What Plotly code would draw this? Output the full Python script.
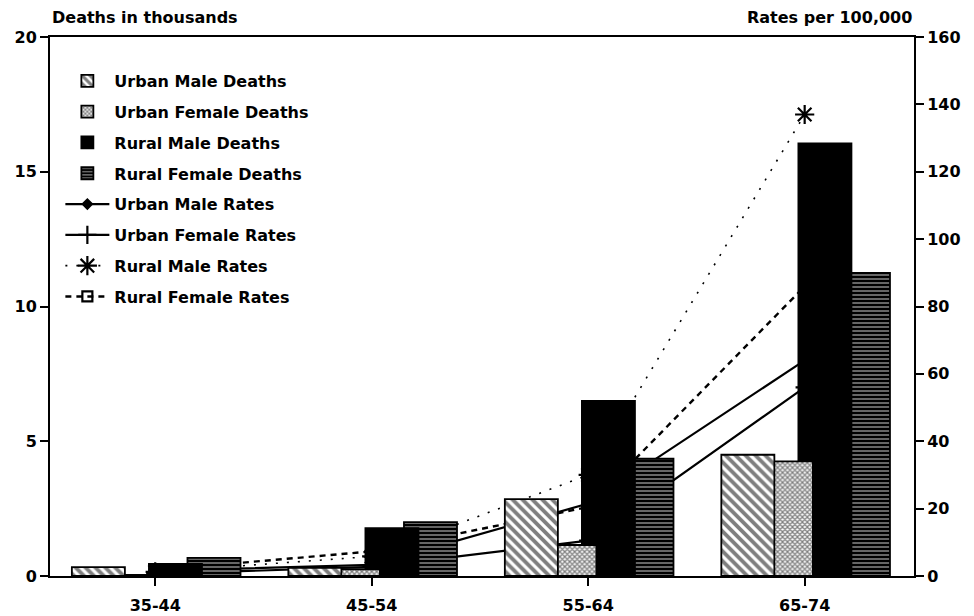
import plotly.graph_objects as go

# Age groups on the category axis
age_groups = ["35-44", "45-54", "55-64", "65-74"]

# Deaths in thousands (left axis)
urban_male_deaths = [0.33, 0.30, 2.85, 4.5]
urban_female_deaths = [0.04, 0.25, 1.15, 4.25]
rural_male_deaths = [0.45, 1.78, 6.5, 16.05]
rural_female_deaths = [0.67, 2.0, 4.35, 11.25]

# Rates per 100,000 (right axis)
urban_male_rates = [1.5, 3.3, 21.5, 64]
urban_female_rates = [0.6, 2.7, 10.5, 56]
rural_male_rates = [1.2, 5.8, 30, 137]
rural_female_rates = [1.7, 7.3, 20.5, 86]

FONT = "DejaVu Sans"
BAR_W = 0.245
TXT = dict(family=FONT, size=16, color="black", weight="bold")

fig = go.Figure()

# Rate lines sit on the primary axis (drawn underneath the bars)
line_specs = [
    ("Urban Male Rates", urban_male_rates, "solid", 2.2, "diamond", 7, 5),
    ("Urban Female Rates", urban_female_rates, "solid", 2.2, "cross-thin-open", 13, 6),
    ("Rural Male Rates", rural_male_rates, "2px,9px", 1.6, "asterisk-open", 16, 7),
    ("Rural Female Rates", rural_female_rates, "6px,5px", 2.4, "square-open", 10, 8),
]
for name, vals, dash, lw, sym, msize, rank in line_specs:
    fig.add_trace(go.Scatter(
        x=age_groups, y=vals, name=name, mode="lines+markers",
        line=dict(color="black", width=lw, dash=dash),
        marker=dict(symbol=sym, size=msize, color="black",
                    line=dict(color="black", width=2.2)),
        yaxis="y", legendrank=rank, legendgroup=name,
    ))

# Death bars on the overlaying axis; later traces are painted on top
bar_specs = [
    ("Rural Female Deaths", rural_female_deaths, 0.149,
     dict(color="black", pattern=dict(shape="-", fgcolor="white", bgcolor="black",
                                      size=4, solidity=0.4)), 4),
    ("Rural Male Deaths", rural_male_deaths, -0.029,
     dict(color="black"), 3),
    ("Urban Female Deaths", urban_female_deaths, -0.207,
     dict(color="white", pattern=dict(shape="x", fgcolor="black", bgcolor="white",
                                      size=3.5, solidity=0.6)), 2),
    ("Urban Male Deaths", urban_male_deaths, -0.385,
     dict(color="white", pattern=dict(shape="\\", fgcolor="black", bgcolor="white",
                                      size=7, solidity=0.55)), 1),
]
for name, vals, off, mk, rank in bar_specs:
    mk = dict(mk)
    mk["line"] = dict(color="black", width=1.8)
    fig.add_trace(go.Bar(
        x=age_groups, y=vals, name=name, offset=off, width=BAR_W,
        marker=mk, yaxis="y2", legendrank=rank, legendgroup=name,
    ))

axis_common = dict(
    showline=True, linecolor="black", linewidth=2,
    ticks="outside", ticklen=8, tickwidth=2, tickcolor="black",
    tickfont=TXT, showgrid=False, zeroline=False, automargin=False,
)

fig.update_layout(
    width=974, height=616,
    margin=dict(l=50, r=60, t=37, b=40),
    paper_bgcolor="white", plot_bgcolor="white",
    barmode="overlay",
    showlegend=True,
    font=dict(family=FONT, color="black"),
    legend=dict(
        x=0.012, y=0.95, xanchor="left", yanchor="top",
        bgcolor="rgba(0,0,0,0)", borderwidth=0,
        font=TXT, tracegroupgap=7, itemwidth=44,
    ),
    xaxis=dict(type="category", range=[-0.486, 3.505], mirror=True,
               ticklabelstandoff=6, **axis_common),
    yaxis=dict(side="right", range=[0, 160], dtick=20, **axis_common),
    yaxis2=dict(side="left", overlaying="y", range=[0, 20], dtick=5, **axis_common),
    annotations=[
        dict(text="Deaths in thousands", xref="paper", yref="paper",
             x=0, y=1, xanchor="left", yanchor="bottom", yshift=8, showarrow=False,
             font=TXT),
        dict(text="Rates per 100,000", xref="paper", yref="paper",
             x=1, y=1, xanchor="right", yanchor="bottom", yshift=8, showarrow=False,
             font=TXT),
    ],
)

fig.write_html("out.html")
